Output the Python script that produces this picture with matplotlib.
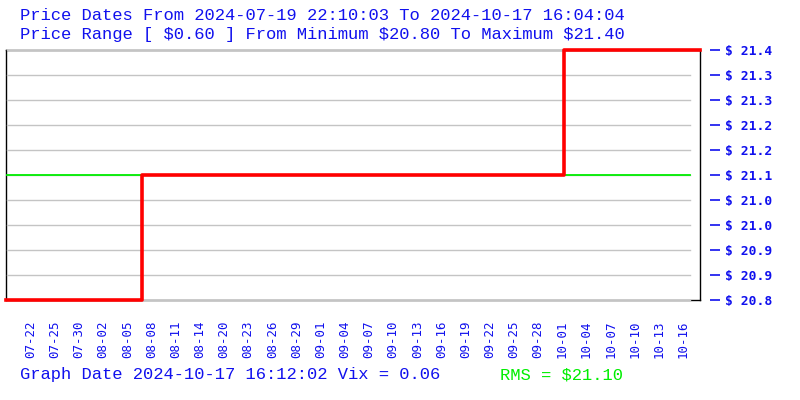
import matplotlib
matplotlib.use("Agg")
import matplotlib.pyplot as plt

# x tick labels (one per tick position 0..27)
date_labels = ['07-22', '07-25', '07-30', '08-02', '08-05', '08-08', '08-11',
               '08-14', '08-20', '08-23', '08-26', '08-29', '09-01', '09-04',
               '09-07', '09-10', '09-13', '09-16', '09-19', '09-22', '09-25',
               '09-28', '10-01', '10-04', '10-07', '10-10', '10-13', '10-16']

# price steps: position on the tick-label scale where each price starts
step_pos = [-1.02, 4.61, 22.07, 27.7]
step_price = [20.80, 21.10, 21.40, 21.40]

price_min = 20.80
price_max = 21.40
rms = 21.10
y_ticks = [20.80, 20.86, 20.92, 20.98, 21.04, 21.10, 21.16, 21.22, 21.28, 21.34, 21.40]

blue = '#1010ee'
green = '#00ee00'
mono = 'Liberation Mono'
tmono = 'DejaVu Sans Mono'

fig = plt.figure(figsize=(8, 4), dpi=100)
ax = fig.add_axes([6/800, 0.25, 694/800, 0.625])
ax.set_xlim(step_pos[0], step_pos[-1])
ax.set_ylim(price_min, price_max)

for s in ax.spines.values():
    s.set_color('black')
    s.set_linewidth(1)

# grid lines drawn over the frame
for y in y_ticks:
    ax.axhline(y, xmin=0.0015, xmax=0.9856, color='#c4c4c4', lw=1, zorder=3,
               clip_on=False)
ax.axhline(rms, xmin=0.0015, xmax=0.9856, color=green, lw=1.3, zorder=3.5)

ax.step(step_pos, step_price, where='post', color='red', lw=2.6, zorder=4,
        clip_on=False)

ax.set_yticks([])
ax.set_xticks(range(len(date_labels)))
ax.set_xticklabels(date_labels, rotation=90, color=blue, fontsize=9,
                   family=tmono)
ax.tick_params(axis='x', length=0, pad=14.5)

# right-hand price axis, offset from the frame
ax2 = ax.twinx()
ax2.set_ylim(price_min, price_max)
ax2.spines['right'].set_position(('outward', 7.2))
for s in ax2.spines.values():
    s.set_visible(False)
ax2.set_yticks(y_ticks)
ax2.set_yticklabels(['$ %.1f' % v for v in y_ticks], color=blue,
                    fontsize=9.4, fontweight='bold', family=tmono)
ax2.tick_params(axis='y', length=7.4, width=1.2, color=blue, pad=3.4)

fig.text(20/800, 1 - 15/400,
         'Price Dates From 2024-07-19 22:10:03 To 2024-10-17 16:04:04',
         color=blue, fontsize=12.3, family=mono, va='center')
fig.text(20/800, 1 - 35/400,
         'Price Range [ $0.60 ] From Minimum $20.80 To Maximum $21.40',
         color=blue, fontsize=12.3, family=mono, va='center')
fig.text(20/800, 1 - 375/400,
         'Graph Date 2024-10-17 16:12:02 Vix = 0.06',
         color=blue, fontsize=12.3, family=mono, va='center')
fig.text(500/800, 1 - 375/400, 'RMS = $21.10',
         color=green, fontsize=12.3, family=mono, va='center')

fig.savefig('out.png', dpi=100)
